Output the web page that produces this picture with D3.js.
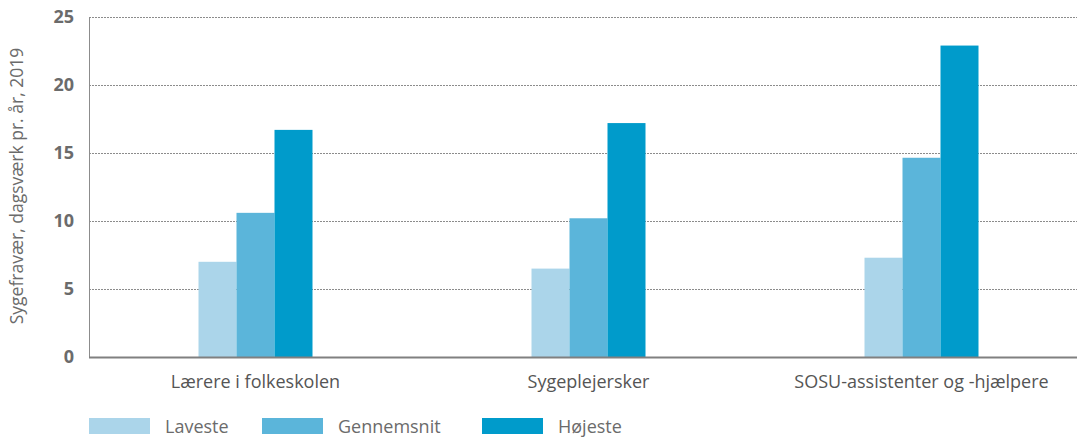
<!DOCTYPE html>
<html>
<head>
<meta charset="utf-8">
<script src="https://cdn.jsdelivr.net/npm/d3@7"></script>
<style>
  html, body { margin: 0; padding: 0; background: #fff; }
  svg { display: block; font-family: "Open Sans", "DejaVu Sans", sans-serif; }
</style>
</head>
<body>
<div id="chart"></div>
<script>
// data
const categories = ["Lærere i folkeskolen", "Sygeplejersker", "SOSU-assistenter og -hjælpere"];
const seriesNames = ["Laveste", "Gennemsnit", "Højeste"];
const laveste = [7.0, 6.5, 7.3];
const gennemsnit = [10.6, 10.2, 14.65];
const hojeste = [16.7, 17.2, 22.9];
const yTicks = [0, 5, 10, 15, 20, 25];
const colors = ["#abd5ea", "#5bb5da", "#009bcb"];

const W = 1077, H = 437;
const margin = { left: 89, right: 0, top: 17, bottom: 80 };
const y0 = 357;

const svg = d3.select("#chart").append("svg")
  .attr("width", W).attr("height", H);

const x = d3.scaleBand().domain(categories).range([margin.left, 1088]);
const y = d3.scaleLinear().domain([0, 25]).range([y0, margin.top]);
const xs = d3.scaleBand().domain(seriesNames).range([-57, 57]);

const rows = categories.map((c, i) => ({ cat: c, vals: [laveste[i], gennemsnit[i], hojeste[i]] }));

// gridlines
svg.append("g").selectAll("line")
  .data(yTicks.filter(d => d > 0))
  .join("line")
  .attr("x1", margin.left).attr("x2", W)
  .attr("y1", d => Math.round(y(d)) + 0.5).attr("y2", d => Math.round(y(d)) + 0.5)
  .attr("stroke", "#8c8c8c").attr("stroke-width", 1)
  .attr("stroke-dasharray", "2,1");

// bars
svg.append("g").selectAll("g")
  .data(rows)
  .join("g")
  .attr("transform", d => `translate(${x(d.cat) + x.bandwidth() / 2},0)`)
  .selectAll("rect")
  .data(d => d.vals.map((v, k) => ({ key: seriesNames[k], v, k })))
  .join("rect")
  .attr("x", d => xs(d.key))
  .attr("width", xs.bandwidth())
  .attr("y", d => y(d.v))
  .attr("height", d => y0 - y(d.v))
  .attr("fill", d => colors[d.k]);

// left axis line
svg.append("line")
  .attr("x1", margin.left + 0.5).attr("x2", margin.left + 0.5)
  .attr("y1", margin.top).attr("y2", y0)
  .attr("stroke", "#8c8c8c").attr("stroke-width", 1);

// baseline
svg.append("line")
  .attr("x1", margin.left).attr("x2", W)
  .attr("y1", y0 + 0.5).attr("y2", y0 + 0.5)
  .attr("stroke", "#808080").attr("stroke-width", 2);

// y tick labels
svg.append("g").selectAll("text")
  .data(yTicks)
  .join("text")
  .attr("x", 74)
  .attr("y", d => y(d) + 6)
  .attr("text-anchor", "end")
  .attr("font-size", 18)
  .attr("font-weight", "bold")
  .attr("fill", "#6b6b6b")
  .text(d => d);

// y title
svg.append("text")
  .attr("transform", "translate(23,186) rotate(-90)")
  .attr("text-anchor", "middle")
  .attr("font-size", 17.5)
  .attr("fill", "#6b6b6b")
  .text("Sygefravær, dagsværk pr. år, 2019");

// x labels
svg.append("g").selectAll("text")
  .data(categories)
  .join("text")
  .attr("x", d => x(d) + x.bandwidth() / 2)
  .attr("y", 388)
  .attr("text-anchor", "middle")
  .attr("font-size", 18)
  .attr("fill", "#555")
  .text(d => d);

// legend
const legendX = [89, 262, 482];
const lg = svg.append("g").selectAll("g")
  .data(seriesNames)
  .join("g")
  .attr("transform", (d, i) => `translate(${legendX[i]},418)`);
lg.append("rect").attr("width", 61).attr("height", 16).attr("fill", (d, i) => colors[i]);
lg.append("text").attr("x", 76).attr("y", 15)
  .attr("font-size", 18).attr("fill", "#6b6b6b").text(d => d);
</script>
</body>
</html>
